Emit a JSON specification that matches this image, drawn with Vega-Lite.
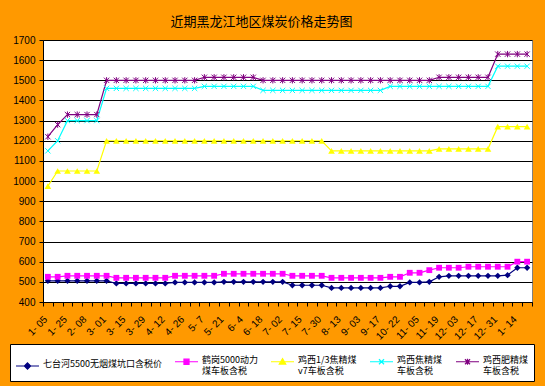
{
 "$schema": "https://vega.github.io/schema/vega-lite/v6.json",
 "width": 489, "height": 262,
 "autosize": {"type": "none"},
 "padding": {"left": 43, "top": 40, "right": 13, "bottom": 84},
 "background": "#FF9900",
 "title": {"text": "近期黑龙江地区煤炭价格走势图", "fontSize": 13, "font": "Noto Sans CJK SC", "fontWeight": "normal", "color": "#000000", "anchor": "middle", "dx": -26, "offset": 6},
 "config": {"view": {"fill": "white", "stroke": "#808080", "strokeWidth": 1}},
 "datasets": {
  "prices": [
{"d":"1-05","s":"七台河5500无烟煤坑口含税价","v":505},{"d":"1-15","s":"七台河5500无烟煤坑口含税价","v":505},{"d":"1-25","s":"七台河5500无烟煤坑口含税价","v":505},{"d":"2-01","s":"七台河5500无烟煤坑口含税价","v":505},{"d":"2-08","s":"七台河5500无烟煤坑口含税价","v":505},{"d":"2-22","s":"七台河5500无烟煤坑口含税价","v":505},{"d":"3-01","s":"七台河5500无烟煤坑口含税价","v":505},{"d":"3-08","s":"七台河5500无烟煤坑口含税价","v":492},{"d":"3-15","s":"七台河5500无烟煤坑口含税价","v":492},{"d":"3-22","s":"七台河5500无烟煤坑口含税价","v":492},{"d":"3-29","s":"七台河5500无烟煤坑口含税价","v":492},{"d":"4-05","s":"七台河5500无烟煤坑口含税价","v":492},{"d":"4-12","s":"七台河5500无烟煤坑口含税价","v":492},{"d":"4-19","s":"七台河5500无烟煤坑口含税价","v":497},{"d":"4-26","s":"七台河5500无烟煤坑口含税价","v":497},{"d":"5-03","s":"七台河5500无烟煤坑口含税价","v":497},{"d":"5-7","s":"七台河5500无烟煤坑口含税价","v":497},{"d":"5-14","s":"七台河5500无烟煤坑口含税价","v":497},{"d":"5-21","s":"七台河5500无烟煤坑口含税价","v":500},{"d":"5-28","s":"七台河5500无烟煤坑口含税价","v":500},{"d":"6-4","s":"七台河5500无烟煤坑口含税价","v":500},{"d":"6-11","s":"七台河5500无烟煤坑口含税价","v":500},{"d":"6-18","s":"七台河5500无烟煤坑口含税价","v":500},{"d":"6-25","s":"七台河5500无烟煤坑口含税价","v":500},{"d":"7-02","s":"七台河5500无烟煤坑口含税价","v":500},{"d":"7-09","s":"七台河5500无烟煤坑口含税价","v":483},{"d":"7-15","s":"七台河5500无烟煤坑口含税价","v":483},{"d":"7-23","s":"七台河5500无烟煤坑口含税价","v":483},{"d":"7-30","s":"七台河5500无烟煤坑口含税价","v":483},{"d":"8-06","s":"七台河5500无烟煤坑口含税价","v":470},{"d":"8-13","s":"七台河5500无烟煤坑口含税价","v":470},{"d":"8-27","s":"七台河5500无烟煤坑口含税价","v":470},{"d":"9-03","s":"七台河5500无烟煤坑口含税价","v":470},{"d":"9-10","s":"七台河5500无烟煤坑口含税价","v":470},{"d":"9-17","s":"七台河5500无烟煤坑口含税价","v":470},{"d":"10-08","s":"七台河5500无烟煤坑口含税价","v":478},{"d":"10-22","s":"七台河5500无烟煤坑口含税价","v":478},{"d":"10-29","s":"七台河5500无烟煤坑口含税价","v":497},{"d":"11-05","s":"七台河5500无烟煤坑口含税价","v":497},{"d":"11-12","s":"七台河5500无烟煤坑口含税价","v":500},{"d":"11-19","s":"七台河5500无烟煤坑口含税价","v":525},{"d":"11-26","s":"七台河5500无烟煤坑口含税价","v":530},{"d":"12-03","s":"七台河5500无烟煤坑口含税价","v":530},{"d":"12-10","s":"七台河5500无烟煤坑口含税价","v":530},{"d":"12-17","s":"七台河5500无烟煤坑口含税价","v":530},{"d":"12-24","s":"七台河5500无烟煤坑口含税价","v":530},{"d":"12-31","s":"七台河5500无烟煤坑口含税价","v":530},{"d":"1-07","s":"七台河5500无烟煤坑口含税价","v":533},{"d":"1-14","s":"七台河5500无烟煤坑口含税价","v":570},{"d":"1-21","s":"七台河5500无烟煤坑口含税价","v":570},
{"d":"1-05","s":"鹤岗5000动力煤车板含税","v":525},{"d":"1-15","s":"鹤岗5000动力煤车板含税","v":525},{"d":"1-25","s":"鹤岗5000动力煤车板含税","v":530},{"d":"2-01","s":"鹤岗5000动力煤车板含税","v":530},{"d":"2-08","s":"鹤岗5000动力煤车板含税","v":530},{"d":"2-22","s":"鹤岗5000动力煤车板含税","v":530},{"d":"3-01","s":"鹤岗5000动力煤车板含税","v":530},{"d":"3-08","s":"鹤岗5000动力煤车板含税","v":520},{"d":"3-15","s":"鹤岗5000动力煤车板含税","v":520},{"d":"3-22","s":"鹤岗5000动力煤车板含税","v":520},{"d":"3-29","s":"鹤岗5000动力煤车板含税","v":520},{"d":"4-05","s":"鹤岗5000动力煤车板含税","v":520},{"d":"4-12","s":"鹤岗5000动力煤车板含税","v":520},{"d":"4-19","s":"鹤岗5000动力煤车板含税","v":530},{"d":"4-26","s":"鹤岗5000动力煤车板含税","v":530},{"d":"5-03","s":"鹤岗5000动力煤车板含税","v":530},{"d":"5-7","s":"鹤岗5000动力煤车板含税","v":530},{"d":"5-14","s":"鹤岗5000动力煤车板含税","v":530},{"d":"5-21","s":"鹤岗5000动力煤车板含税","v":540},{"d":"5-28","s":"鹤岗5000动力煤车板含税","v":540},{"d":"6-4","s":"鹤岗5000动力煤车板含税","v":540},{"d":"6-11","s":"鹤岗5000动力煤车板含税","v":540},{"d":"6-18","s":"鹤岗5000动力煤车板含税","v":540},{"d":"6-25","s":"鹤岗5000动力煤车板含税","v":540},{"d":"7-02","s":"鹤岗5000动力煤车板含税","v":540},{"d":"7-09","s":"鹤岗5000动力煤车板含税","v":530},{"d":"7-15","s":"鹤岗5000动力煤车板含税","v":530},{"d":"7-23","s":"鹤岗5000动力煤车板含税","v":530},{"d":"7-30","s":"鹤岗5000动力煤车板含税","v":530},{"d":"8-06","s":"鹤岗5000动力煤车板含税","v":520},{"d":"8-13","s":"鹤岗5000动力煤车板含税","v":520},{"d":"8-27","s":"鹤岗5000动力煤车板含税","v":520},{"d":"9-03","s":"鹤岗5000动力煤车板含税","v":520},{"d":"9-10","s":"鹤岗5000动力煤车板含税","v":520},{"d":"9-17","s":"鹤岗5000动力煤车板含税","v":520},{"d":"10-08","s":"鹤岗5000动力煤车板含税","v":525},{"d":"10-22","s":"鹤岗5000动力煤车板含税","v":525},{"d":"10-29","s":"鹤岗5000动力煤车板含税","v":545},{"d":"11-05","s":"鹤岗5000动力煤车板含税","v":545},{"d":"11-12","s":"鹤岗5000动力煤车板含税","v":558},{"d":"11-19","s":"鹤岗5000动力煤车板含税","v":570},{"d":"11-26","s":"鹤岗5000动力煤车板含税","v":570},{"d":"12-03","s":"鹤岗5000动力煤车板含税","v":570},{"d":"12-10","s":"鹤岗5000动力煤车板含税","v":575},{"d":"12-17","s":"鹤岗5000动力煤车板含税","v":575},{"d":"12-24","s":"鹤岗5000动力煤车板含税","v":575},{"d":"12-31","s":"鹤岗5000动力煤车板含税","v":575},{"d":"1-07","s":"鹤岗5000动力煤车板含税","v":575},{"d":"1-14","s":"鹤岗5000动力煤车板含税","v":600},{"d":"1-21","s":"鹤岗5000动力煤车板含税","v":600},
{"d":"1-05","s":"鸡西1/3焦精煤v7车板含税","v":975},{"d":"1-15","s":"鸡西1/3焦精煤v7车板含税","v":1050},{"d":"1-25","s":"鸡西1/3焦精煤v7车板含税","v":1050},{"d":"2-01","s":"鸡西1/3焦精煤v7车板含税","v":1050},{"d":"2-08","s":"鸡西1/3焦精煤v7车板含税","v":1050},{"d":"2-22","s":"鸡西1/3焦精煤v7车板含税","v":1050},{"d":"3-01","s":"鸡西1/3焦精煤v7车板含税","v":1200},{"d":"3-08","s":"鸡西1/3焦精煤v7车板含税","v":1200},{"d":"3-15","s":"鸡西1/3焦精煤v7车板含税","v":1200},{"d":"3-22","s":"鸡西1/3焦精煤v7车板含税","v":1200},{"d":"3-29","s":"鸡西1/3焦精煤v7车板含税","v":1200},{"d":"4-05","s":"鸡西1/3焦精煤v7车板含税","v":1200},{"d":"4-12","s":"鸡西1/3焦精煤v7车板含税","v":1200},{"d":"4-19","s":"鸡西1/3焦精煤v7车板含税","v":1200},{"d":"4-26","s":"鸡西1/3焦精煤v7车板含税","v":1200},{"d":"5-03","s":"鸡西1/3焦精煤v7车板含税","v":1200},{"d":"5-7","s":"鸡西1/3焦精煤v7车板含税","v":1200},{"d":"5-14","s":"鸡西1/3焦精煤v7车板含税","v":1200},{"d":"5-21","s":"鸡西1/3焦精煤v7车板含税","v":1200},{"d":"5-28","s":"鸡西1/3焦精煤v7车板含税","v":1200},{"d":"6-4","s":"鸡西1/3焦精煤v7车板含税","v":1200},{"d":"6-11","s":"鸡西1/3焦精煤v7车板含税","v":1200},{"d":"6-18","s":"鸡西1/3焦精煤v7车板含税","v":1200},{"d":"6-25","s":"鸡西1/3焦精煤v7车板含税","v":1200},{"d":"7-02","s":"鸡西1/3焦精煤v7车板含税","v":1200},{"d":"7-09","s":"鸡西1/3焦精煤v7车板含税","v":1200},{"d":"7-15","s":"鸡西1/3焦精煤v7车板含税","v":1200},{"d":"7-23","s":"鸡西1/3焦精煤v7车板含税","v":1200},{"d":"7-30","s":"鸡西1/3焦精煤v7车板含税","v":1200},{"d":"8-06","s":"鸡西1/3焦精煤v7车板含税","v":1150},{"d":"8-13","s":"鸡西1/3焦精煤v7车板含税","v":1150},{"d":"8-27","s":"鸡西1/3焦精煤v7车板含税","v":1150},{"d":"9-03","s":"鸡西1/3焦精煤v7车板含税","v":1150},{"d":"9-10","s":"鸡西1/3焦精煤v7车板含税","v":1150},{"d":"9-17","s":"鸡西1/3焦精煤v7车板含税","v":1150},{"d":"10-08","s":"鸡西1/3焦精煤v7车板含税","v":1150},{"d":"10-22","s":"鸡西1/3焦精煤v7车板含税","v":1150},{"d":"10-29","s":"鸡西1/3焦精煤v7车板含税","v":1150},{"d":"11-05","s":"鸡西1/3焦精煤v7车板含税","v":1150},{"d":"11-12","s":"鸡西1/3焦精煤v7车板含税","v":1150},{"d":"11-19","s":"鸡西1/3焦精煤v7车板含税","v":1160},{"d":"11-26","s":"鸡西1/3焦精煤v7车板含税","v":1160},{"d":"12-03","s":"鸡西1/3焦精煤v7车板含税","v":1160},{"d":"12-10","s":"鸡西1/3焦精煤v7车板含税","v":1160},{"d":"12-17","s":"鸡西1/3焦精煤v7车板含税","v":1160},{"d":"12-24","s":"鸡西1/3焦精煤v7车板含税","v":1160},{"d":"12-31","s":"鸡西1/3焦精煤v7车板含税","v":1270},{"d":"1-07","s":"鸡西1/3焦精煤v7车板含税","v":1270},{"d":"1-14","s":"鸡西1/3焦精煤v7车板含税","v":1270},{"d":"1-21","s":"鸡西1/3焦精煤v7车板含税","v":1270},
{"d":"1-05","s":"鸡西焦精煤车板含税","v":1150},{"d":"1-15","s":"鸡西焦精煤车板含税","v":1200},{"d":"1-25","s":"鸡西焦精煤车板含税","v":1300},{"d":"2-01","s":"鸡西焦精煤车板含税","v":1300},{"d":"2-08","s":"鸡西焦精煤车板含税","v":1300},{"d":"2-22","s":"鸡西焦精煤车板含税","v":1300},{"d":"3-01","s":"鸡西焦精煤车板含税","v":1460},{"d":"3-08","s":"鸡西焦精煤车板含税","v":1460},{"d":"3-15","s":"鸡西焦精煤车板含税","v":1460},{"d":"3-22","s":"鸡西焦精煤车板含税","v":1460},{"d":"3-29","s":"鸡西焦精煤车板含税","v":1460},{"d":"4-05","s":"鸡西焦精煤车板含税","v":1460},{"d":"4-12","s":"鸡西焦精煤车板含税","v":1460},{"d":"4-19","s":"鸡西焦精煤车板含税","v":1460},{"d":"4-26","s":"鸡西焦精煤车板含税","v":1460},{"d":"5-03","s":"鸡西焦精煤车板含税","v":1460},{"d":"5-7","s":"鸡西焦精煤车板含税","v":1470},{"d":"5-14","s":"鸡西焦精煤车板含税","v":1470},{"d":"5-21","s":"鸡西焦精煤车板含税","v":1470},{"d":"5-28","s":"鸡西焦精煤车板含税","v":1470},{"d":"6-4","s":"鸡西焦精煤车板含税","v":1470},{"d":"6-11","s":"鸡西焦精煤车板含税","v":1470},{"d":"6-18","s":"鸡西焦精煤车板含税","v":1450},{"d":"6-25","s":"鸡西焦精煤车板含税","v":1450},{"d":"7-02","s":"鸡西焦精煤车板含税","v":1450},{"d":"7-09","s":"鸡西焦精煤车板含税","v":1450},{"d":"7-15","s":"鸡西焦精煤车板含税","v":1450},{"d":"7-23","s":"鸡西焦精煤车板含税","v":1450},{"d":"7-30","s":"鸡西焦精煤车板含税","v":1450},{"d":"8-06","s":"鸡西焦精煤车板含税","v":1450},{"d":"8-13","s":"鸡西焦精煤车板含税","v":1450},{"d":"8-27","s":"鸡西焦精煤车板含税","v":1450},{"d":"9-03","s":"鸡西焦精煤车板含税","v":1450},{"d":"9-10","s":"鸡西焦精煤车板含税","v":1450},{"d":"9-17","s":"鸡西焦精煤车板含税","v":1450},{"d":"10-08","s":"鸡西焦精煤车板含税","v":1470},{"d":"10-22","s":"鸡西焦精煤车板含税","v":1470},{"d":"10-29","s":"鸡西焦精煤车板含税","v":1470},{"d":"11-05","s":"鸡西焦精煤车板含税","v":1470},{"d":"11-12","s":"鸡西焦精煤车板含税","v":1470},{"d":"11-19","s":"鸡西焦精煤车板含税","v":1470},{"d":"11-26","s":"鸡西焦精煤车板含税","v":1470},{"d":"12-03","s":"鸡西焦精煤车板含税","v":1470},{"d":"12-10","s":"鸡西焦精煤车板含税","v":1470},{"d":"12-17","s":"鸡西焦精煤车板含税","v":1470},{"d":"12-24","s":"鸡西焦精煤车板含税","v":1470},{"d":"12-31","s":"鸡西焦精煤车板含税","v":1570},{"d":"1-07","s":"鸡西焦精煤车板含税","v":1570},{"d":"1-14","s":"鸡西焦精煤车板含税","v":1570},{"d":"1-21","s":"鸡西焦精煤车板含税","v":1570},
{"d":"1-05","s":"鸡西肥精煤车板含税","v":1220},{"d":"1-15","s":"鸡西肥精煤车板含税","v":1280},{"d":"1-25","s":"鸡西肥精煤车板含税","v":1330},{"d":"2-01","s":"鸡西肥精煤车板含税","v":1330},{"d":"2-08","s":"鸡西肥精煤车板含税","v":1330},{"d":"2-22","s":"鸡西肥精煤车板含税","v":1330},{"d":"3-01","s":"鸡西肥精煤车板含税","v":1500},{"d":"3-08","s":"鸡西肥精煤车板含税","v":1500},{"d":"3-15","s":"鸡西肥精煤车板含税","v":1500},{"d":"3-22","s":"鸡西肥精煤车板含税","v":1500},{"d":"3-29","s":"鸡西肥精煤车板含税","v":1500},{"d":"4-05","s":"鸡西肥精煤车板含税","v":1500},{"d":"4-12","s":"鸡西肥精煤车板含税","v":1500},{"d":"4-19","s":"鸡西肥精煤车板含税","v":1500},{"d":"4-26","s":"鸡西肥精煤车板含税","v":1500},{"d":"5-03","s":"鸡西肥精煤车板含税","v":1500},{"d":"5-7","s":"鸡西肥精煤车板含税","v":1515},{"d":"5-14","s":"鸡西肥精煤车板含税","v":1515},{"d":"5-21","s":"鸡西肥精煤车板含税","v":1515},{"d":"5-28","s":"鸡西肥精煤车板含税","v":1515},{"d":"6-4","s":"鸡西肥精煤车板含税","v":1515},{"d":"6-11","s":"鸡西肥精煤车板含税","v":1515},{"d":"6-18","s":"鸡西肥精煤车板含税","v":1500},{"d":"6-25","s":"鸡西肥精煤车板含税","v":1500},{"d":"7-02","s":"鸡西肥精煤车板含税","v":1500},{"d":"7-09","s":"鸡西肥精煤车板含税","v":1500},{"d":"7-15","s":"鸡西肥精煤车板含税","v":1500},{"d":"7-23","s":"鸡西肥精煤车板含税","v":1500},{"d":"7-30","s":"鸡西肥精煤车板含税","v":1500},{"d":"8-06","s":"鸡西肥精煤车板含税","v":1500},{"d":"8-13","s":"鸡西肥精煤车板含税","v":1500},{"d":"8-27","s":"鸡西肥精煤车板含税","v":1500},{"d":"9-03","s":"鸡西肥精煤车板含税","v":1500},{"d":"9-10","s":"鸡西肥精煤车板含税","v":1500},{"d":"9-17","s":"鸡西肥精煤车板含税","v":1500},{"d":"10-08","s":"鸡西肥精煤车板含税","v":1500},{"d":"10-22","s":"鸡西肥精煤车板含税","v":1500},{"d":"10-29","s":"鸡西肥精煤车板含税","v":1500},{"d":"11-05","s":"鸡西肥精煤车板含税","v":1500},{"d":"11-12","s":"鸡西肥精煤车板含税","v":1500},{"d":"11-19","s":"鸡西肥精煤车板含税","v":1515},{"d":"11-26","s":"鸡西肥精煤车板含税","v":1515},{"d":"12-03","s":"鸡西肥精煤车板含税","v":1515},{"d":"12-10","s":"鸡西肥精煤车板含税","v":1515},{"d":"12-17","s":"鸡西肥精煤车板含税","v":1515},{"d":"12-24","s":"鸡西肥精煤车板含税","v":1515},{"d":"12-31","s":"鸡西肥精煤车板含税","v":1630},{"d":"1-07","s":"鸡西肥精煤车板含税","v":1630},{"d":"1-14","s":"鸡西肥精煤车板含税","v":1630},{"d":"1-21","s":"鸡西肥精煤车板含税","v":1630}
  ]
 },
 "data": {"name": "prices"},
 "encoding": {
  "x": {"field": "d", "type": "ordinal", "sort": null, "bandPosition": 0.5,
        "scale": {"type": "band", "paddingInner": 0, "paddingOuter": 0},
        "axis": {"title": null, "tickBand": "extent", "labelAngle": -45, "labelOverlap": false,
                 "labelExpr": "indexof(['1-05','1-25','2-08','3-01','3-15','3-29','4-12','4-26','5-7','5-21','6-4','6-18','7-02','7-15','7-30','8-13','9-03','9-17','10-22','11-05','11-19','12-03','12-17','12-31','1-14'], datum.value) >= 0 ? replace(datum.value, '-', '- ') : ''",
                 "labelFont": "Liberation Sans", "labelFontSize": 10, "labelColor": "#000000",
                 "labelPadding": 8, "labelOffset": -6,
                 "tickColor": "#000000", "tickSize": 4, "domainColor": "#000000", "grid": false}},
  "y": {"field": "v", "type": "quantitative", "scale": {"domain": [400, 1700], "nice": false},
        "axis": {"title": null, "format": "d", "values": [400,500,600,700,800,900,1000,1100,1200,1300,1400,1500,1600,1700],
                 "grid": true, "gridColor": "#000000", "gridWidth": 1,
                 "domainColor": "#000000", "tickColor": "#000000", "tickSize": 4,
                 "labelFont": "Liberation Sans", "labelFontSize": 10, "labelColor": "#000000", "labelPadding": 4}}
 },
 "layer": [
  {"mark": {"type": "line", "strokeWidth": 1.2},
   "encoding": {
    "color": {"field": "s", "type": "nominal",
      "scale": {"domain": ["七台河5500无烟煤坑口含税价","鹤岗5000动力煤车板含税","鸡西1/3焦精煤v7车板含税","鸡西焦精煤车板含税","鸡西肥精煤车板含税"],
                "range": ["#000080","#FF00FF","#FFFF00","#00FFFF","#800080"]},
      "legend": {"orient": "none", "legendX": -33, "legendY": 304, "direction": "horizontal", "columns": 5, "title": null,
        "fillColor": "white", "strokeColor": "black", "padding": 5, "columnPadding": 10,
        "labelFont": "Noto Sans CJK SC", "labelFontSize": 9, "labelColor": "#000000", "labelOffset": 3, "labelLimit": 300,
        "labelBaseline": "top",
        "symbolSize": 529, "symbolStrokeWidth": 1.2,
        "labelExpr": "datum.value == '鹤岗5000动力煤车板含税' ? ['鹤岗5000动力', '煤车板含税'] : datum.value == '鸡西1/3焦精煤v7车板含税' ? ['鸡西1/3焦精煤', 'v7车板含税'] : datum.value == '鸡西焦精煤车板含税' ? ['鸡西焦精煤', '车板含税'] : datum.value == '鸡西肥精煤车板含税' ? ['鸡西肥精煤', '车板含税'] : datum.value",
        "encode": {
         "labels": {"update": {"dy": {"value": -6}}},
         "symbols": {"update": {
          "shape": {"signal": "datum.value == '七台河5500无烟煤坑口含税价' ? 'M-1,0H1M0,-0.27L0.27,0L0,0.27L-0.27,0Z' : datum.value == '鹤岗5000动力煤车板含税' ? 'M-1,0H1M-0.22,-0.22H0.22V0.22H-0.22Z' : datum.value == '鸡西1/3焦精煤v7车板含税' ? 'M-1,0H1M0,-0.27L0.28,0.2L-0.28,0.2Z' : datum.value == '鸡西焦精煤车板含税' ? 'M-1,0H1M-0.22,-0.22L0.22,0.22M-0.22,0.22L0.22,-0.22' : 'M-1,0H1M-0.22,-0.22L0.22,0.22M-0.22,0.22L0.22,-0.22M0,-0.27V0.27'"},
          "fill": {"scale": "color", "field": "value"},
          "stroke": {"scale": "color", "field": "value"}
        }}}}
    }
   }},
  {"transform": [{"filter": "datum.s == '七台河5500无烟煤坑口含税价'"}],
   "mark": {"type": "point", "shape": "diamond", "filled": true, "opacity": 1, "color": "#000080", "size": 40}},
  {"transform": [{"filter": "datum.s == '鹤岗5000动力煤车板含税'"}],
   "mark": {"type": "point", "shape": "square", "filled": true, "opacity": 1, "color": "#FF00FF", "size": 34}},
  {"transform": [{"filter": "datum.s == '鸡西1/3焦精煤v7车板含税'"}],
   "mark": {"type": "point", "shape": "triangle-up", "filled": true, "opacity": 1, "color": "#FFFF00", "size": 44}},
  {"transform": [{"filter": "datum.s == '鸡西焦精煤车板含税'"}],
   "mark": {"type": "point", "shape": "M-1,-1L1,1M-1,1L1,-1", "filled": false, "opacity": 1, "color": "#00FFFF", "strokeWidth": 1, "size": 28}},
  {"transform": [{"filter": "datum.s == '鸡西肥精煤车板含税'"}],
   "mark": {"type": "point", "shape": "M-1,-1L1,1M-1,1L1,-1M0,-1.2L0,1.2", "filled": false, "opacity": 1, "color": "#800080", "strokeWidth": 1, "size": 28}}
 ]
}
